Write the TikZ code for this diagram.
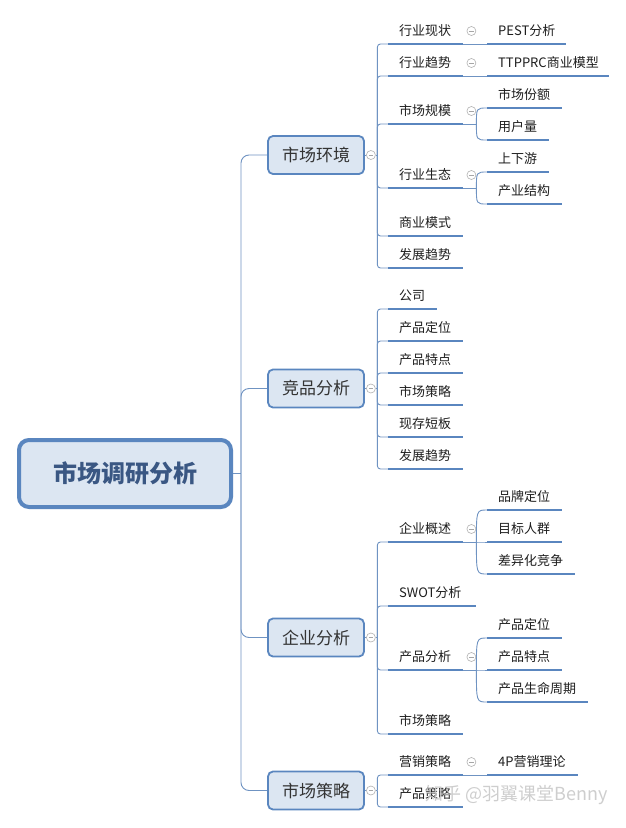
\documentclass[tikz,border=0pt]{standalone}
\usepackage{fontspec}
\setmainfont{Noto Sans CJK SC}
\usetikzlibrary{calc}
\definecolor{ulblue}{HTML}{5A86BF}
\definecolor{connblue}{HTML}{6F93C2}
\definecolor{boxfill}{HTML}{DCE6F2}
\definecolor{titleblue}{HTML}{3A5783}
\definecolor{txt}{HTML}{1E1E1E}
\tikzset{
 leaf/.style={anchor=south west, inner sep=0pt, align=left, font=\fontsize{13}{13}\selectfont, text=txt, text height=10pt, text depth=8.5pt},
 ul/.style={draw=ulblue, line width=2.6pt},
 conn/.style={draw=connblue, line width=0.9pt},
 topic/.style={draw=ulblue, line width=1.8pt, fill=boxfill, rounded corners=5pt, minimum width=96pt, minimum height=38pt, inner sep=0pt, font=\fontsize{17}{17}\selectfont, text=black!80},
 root/.style={draw=ulblue, line width=4pt, fill=boxfill, rounded corners=10pt, minimum width=212pt, minimum height=67pt, inner sep=0pt, font=\bfseries\fontsize{24}{24}\selectfont, text=titleblue},
 fold/.style={circle, draw=gray!60, fill=white, line width=0.6pt, minimum size=9pt, inner sep=0pt, path picture={\draw[gray!70, line width=0.6pt] ([xshift=-2.3pt]path picture bounding box.center) -- ([xshift=2.3pt]path picture bounding box.center);}},
 wm/.style={font=\fontsize{18}{18}\selectfont, text=gray!45, opacity=0.85, inner sep=0pt},
}
\newcommand\leaf[5]{%
  \pgfmathsetmacro\lw{#3-#2}%
  \node[leaf, text width=\lw pt] (#1) at (#2,#4) {\hspace*{11pt}#5};
  \draw[ul] (#1.south west) -- (#1.south east);
}
\newcommand\lvone[2]{% topic name, list of children
  \coordinate (#1j) at ($(#1.east)+(12.5,0)$);
  \node[fold] (#1f) at ($(#1.east)+(6,0)$) {};
  \draw[conn] (#1.east) -- (#1f.west);
  \draw[conn] (#1f.east) -- (#1j);
  \foreach \c in {#2} {\draw[conn, rounded corners=3pt] (#1j) |- (\c.south west);}
}
\newcommand\foldat[1]{\node[fold] (#1f) at ($(#1.south east)+(8,-13)$) {};}
\newcommand\single[2]{\draw[conn] (#1.south east) -- (#2.south west);}
\newcommand\bracket[2]{% parent, children
  \coordinate (#1j) at ($(#1.south east)+(13,0)$);
  \draw[conn] (#1.south east) -- (#1j);
  \foreach \c in {#2} {\draw[conn] (#1j) .. controls (#1j |- \c.south west) .. (\c.south west);}
}
\begin{document}
\begin{tikzpicture}[x=1pt, y=-1pt]
\useasboundingbox[fill=white] (0,0) rectangle (626,828);
% root and topics
\node[root] (root) at (125,473.5) {市场调研分析};
\node[topic] (env) at (316,155) {市场环境};
\node[topic] (jp) at (316,388.5) {竞品分析};
\node[topic] (qy) at (316,637.5) {企业分析};
\node[topic] (cl) at (316,790.5) {市场策略};
% leaves: market environment
\leaf{hyxz}{388}{463}{44}{行业现状}
\leaf{hyqs}{388}{463}{76}{行业趋势}
\leaf{scgm}{388}{463}{124}{市场规模}
\leaf{hyst}{388}{463}{188}{行业生态}
\leaf{syms}{388}{463}{236}{商业模式}
\leaf{fzqs}{388}{463}{268}{发展趋势}
\leaf{pest}{487}{566}{44}{PEST分析}
\leaf{ttp}{487}{609}{76}{TTPPRC商业模型}
\leaf{scfe}{487}{562}{108}{市场份额}
\leaf{yhl}{487}{549}{140}{用户量}
\leaf{sxy}{487}{549}{172}{上下游}
\leaf{cyjg}{487}{562}{204}{产业结构}
% competitors
\leaf{gs}{388}{437}{309}{公司}
\leaf{cpdw}{388}{463}{341}{产品定位}
\leaf{cptd}{388}{463}{373}{产品特点}
\leaf{scc}{388}{463}{405}{市场策略}
\leaf{xcdb}{388}{463}{437}{现存短板}
\leaf{fzqsb}{388}{463}{469}{发展趋势}
% enterprise
\leaf{qygs}{388}{463}{542}{企业概述}
\leaf{swot}{388}{476}{606}{SWOT分析}
\leaf{cpfx}{388}{463}{670}{产品分析}
\leaf{sccb}{388}{463}{734}{市场策略}
\leaf{ppdw}{487}{562}{510}{品牌定位}
\leaf{mbrq}{487}{562}{542}{目标人群}
\leaf{cyhjz}{487}{575}{574}{差异化竞争}
\leaf{cpdwb}{487}{562}{638}{产品定位}
\leaf{cptdb}{487}{562}{670}{产品特点}
\leaf{cpsm}{487}{588}{702}{产品生命周期}
% strategy
\leaf{yxcl}{388}{463}{775}{营销策略}
\leaf{cpcl}{388}{463}{807}{产品策略}
\leaf{fourp}{487}{578}{775}{4P营销理论}
% trunk
\coordinate (rootj) at ($(root.east)+(8,0)$);
\draw[conn] (root.east) -- (rootj);
\foreach \t in {env,jp,qy,cl} {\draw[conn, rounded corners=8pt] (rootj) |- (\t.west);}
% level-1 branches
\lvone{env}{hyxz,hyqs,scgm,hyst,syms,fzqs}
\lvone{jp}{gs,cpdw,cptd,scc,xcdb,fzqsb}
\lvone{qy}{qygs,swot,cpfx,sccb}
\lvone{cl}{yxcl,cpcl}
% level-2 branches
\single{hyxz}{pest}\foldat{hyxz}
\single{hyqs}{ttp}\foldat{hyqs}
\bracket{scgm}{scfe,yhl}\foldat{scgm}
\bracket{hyst}{sxy,cyjg}\foldat{hyst}
\bracket{qygs}{ppdw,mbrq,cyhjz}\foldat{qygs}
\bracket{cpfx}{cpdwb,cptdb,cpsm}\foldat{cpfx}
\single{yxcl}{fourp}\foldat{yxcl}
% watermark
\node[wm] (wm) at (517,795) {知乎 @羽翼课堂Benny};
\end{tikzpicture}
\end{document}
